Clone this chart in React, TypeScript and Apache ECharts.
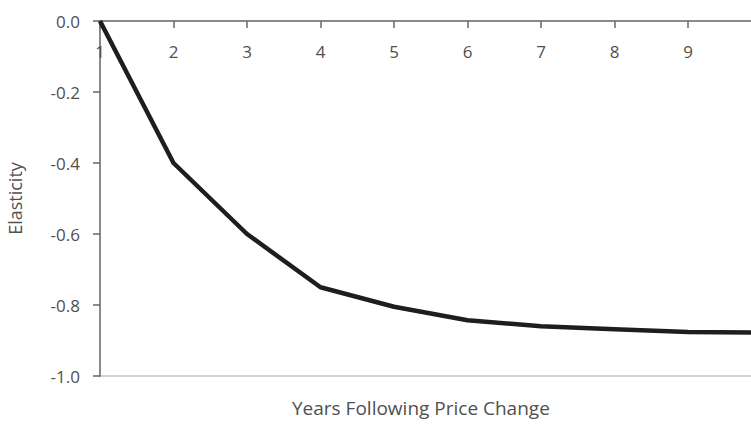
import React, { useEffect, useRef } from "react";
import * as echarts from "echarts";

const years = ["1", "2", "3", "4", "5", "6", "7", "8", "9", "10"];
const elasticity = [0, -0.4, -0.6, -0.75, -0.805, -0.843, -0.86, -0.868, -0.876, -0.878];
const xTitle = "Years Following Price Change";
const yTitle = "Elasticity";

const FONT = "'Open Sans', sans-serif";

export default function App() {
  const ref = useRef<HTMLDivElement>(null);
  useEffect(() => {
    if (!ref.current) return;
    const chart = echarts.init(ref.current, undefined, { renderer: "svg" });
    chart.setOption({
      animation: false,
      backgroundColor: "#ffffff",
      textStyle: { fontFamily: FONT },
      grid: {
        left: 100,
        top: 21,
        right: -10.5,
        bottom: 49,
        containLabel: false,
        outerBoundsMode: "none",
        show: true,
        borderColor: "#c4c4c4",
        borderWidth: 1.5,
        backgroundColor: "transparent",
      },
      xAxis: {
        type: "category",
        data: years,
        boundaryGap: false,
        position: "top",
        axisLine: { onZero: false, lineStyle: { color: "#8a8a8a", width: 2 } },
        axisTick: { show: true, inside: true, interval: 0, length: 7, lineStyle: { color: "#666", width: 1.5 } },
        axisLabel: {
          inside: true,
          color: "#505050",
          fontSize: 17,
          margin: 22,
          fontFamily: FONT,
          interval: 0,
          // the last category sits beyond the visible right edge in the reference
          formatter: (v: string, i: number) => (i === years.length - 1 ? "" : v),
        },
        splitLine: { show: false },
      },
      yAxis: {
        type: "value",
        min: -1,
        max: 0,
        interval: 0.2,
        name: yTitle,
        nameLocation: "middle",
        nameRotate: 90,
        nameGap: 76,
        nameTextStyle: { color: "#505050", fontSize: 18, fontFamily: FONT },
        axisLine: { show: true, onZero: false, lineStyle: { color: "#8a8a8a", width: 2 } },
        axisTick: { show: true, length: 7, lineStyle: { color: "#666", width: 1.5 } },
        axisLabel: {
          color: "#505050",
          fontSize: 17,
          margin: 20,
          fontFamily: FONT,
          formatter: (v: number) => (Math.abs(v) < 1e-9 ? "0.0" : v.toFixed(1)),
        },
        splitLine: { show: false },
      },
      graphic: [
        {
          type: "text",
          left: 421 - 129,
          top: 398,
          style: {
            text: xTitle,
            fill: "#505050",
            fontSize: 19,
            fontFamily: FONT,
          },
        },
      ],
      series: [
        {
          type: "line",
          data: elasticity,
          symbol: "none",
          lineStyle: { color: "#1e1e1e", width: 4.5 },
          clip: true,
        },
      ],
    });
    return () => chart.dispose();
  }, []);
  return (
    <div
      ref={ref}
      style={{ position: "fixed", left: 0, top: 0, width: 751, height: 425 }}
    />
  );
}
